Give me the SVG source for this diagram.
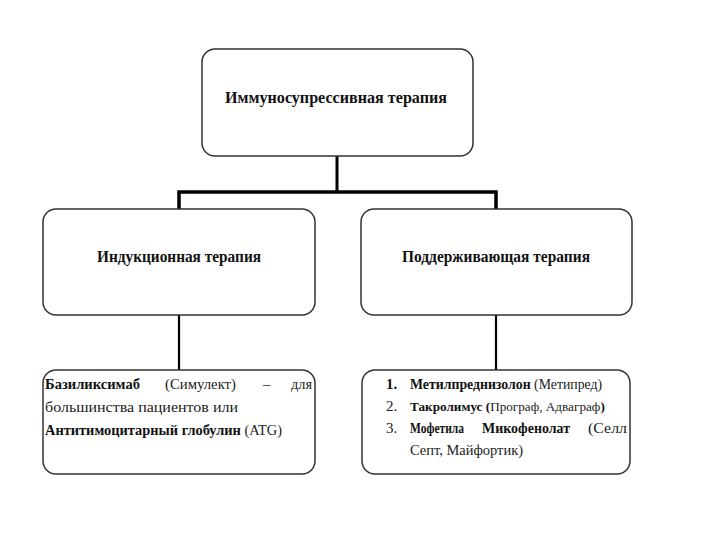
<svg xmlns="http://www.w3.org/2000/svg" width="720" height="540" viewBox="0 0 720 540">
<style>
.box{fill:#fff;stroke:#333;stroke-width:1.5}
.hd{font-family:"Liberation Serif","DejaVu Serif",serif;font-weight:bold;font-size:17px;fill:#111}
.tx{font-family:"Liberation Serif","DejaVu Serif",serif;font-size:15px;fill:#222}
.b{font-weight:bold;fill:#111}
.con{stroke:#000;fill:none}
</style>
<rect width="720" height="540" fill="#fff"/>
<g id="connectors">
<line class="con" x1="337" y1="156" x2="337" y2="192" stroke-width="3"/>
<polyline class="con" points="179,209 179,192 496,192 496,209" stroke-width="3.5"/>
<line class="con" x1="179" y1="315" x2="179" y2="370" stroke-width="2.2"/>
<line class="con" x1="496" y1="315" x2="496" y2="370" stroke-width="2.2"/>
</g>
<g id="node-root">
<rect class="box" x="202" y="49" width="271" height="107" rx="13"/>
<text class="hd" x="225" y="103" textLength="222" lengthAdjust="spacingAndGlyphs">Иммуносупрессивная терапия</text>
</g>
<g id="node-induction">
<rect class="box" x="43" y="209" width="272" height="106" rx="13"/>
<text class="hd" x="97" y="262" textLength="164" lengthAdjust="spacingAndGlyphs">Индукционная терапия</text>
</g>
<g id="node-maintenance">
<rect class="box" x="361" y="209" width="271" height="106" rx="13"/>
<text class="hd" x="402" y="262" textLength="188" lengthAdjust="spacingAndGlyphs">Поддерживающая терапия</text>
</g>
<g id="node-induction-drugs">
<rect class="box" x="43" y="370" width="272" height="104" rx="13"/>
<text class="tx b" x="45" y="389" textLength="95" lengthAdjust="spacingAndGlyphs">Базиликсимаб</text>
<text class="tx" x="165" y="389" textLength="71" lengthAdjust="spacingAndGlyphs">(Симулект)</text>
<text class="tx" x="263" y="389">–</text>
<text class="tx" x="291" y="389" textLength="21" lengthAdjust="spacingAndGlyphs">для</text>
<text class="tx" x="45" y="412" textLength="193" lengthAdjust="spacingAndGlyphs">большинства пациентов или</text>
<text class="tx" x="45" y="435" style="font-size:14.4px"><tspan class="b">Антитимоцитарный глобулин</tspan> (ATG)</text>
</g>
<g id="node-maintenance-drugs">
<rect class="box" x="362" y="370" width="268" height="104" rx="13"/>
<text class="tx b" x="386" y="389">1.</text>
<text class="tx" x="410" y="389" style="font-size:13.8px"><tspan class="b">Метилпреднизолон</tspan> (Метипред)</text>
<text class="tx" x="386" y="411">2.</text>
<text class="tx" x="410" y="411" style="font-size:13.2px"><tspan class="b">Такролимус (</tspan>Програф, Адваграф<tspan class="b">)</tspan></text>
<text class="tx" x="386" y="433">3.</text>
<text class="tx b" x="410" y="433" textLength="54" lengthAdjust="spacingAndGlyphs">Мофетила</text>
<text class="tx b" x="482" y="433" textLength="88" lengthAdjust="spacingAndGlyphs">Микофенолат</text>
<text class="tx" x="588" y="433" textLength="39" lengthAdjust="spacingAndGlyphs">(Селл</text>
<text class="tx" x="410" y="455" textLength="113" lengthAdjust="spacingAndGlyphs">Септ, Майфортик)</text>
</g>
</svg>
